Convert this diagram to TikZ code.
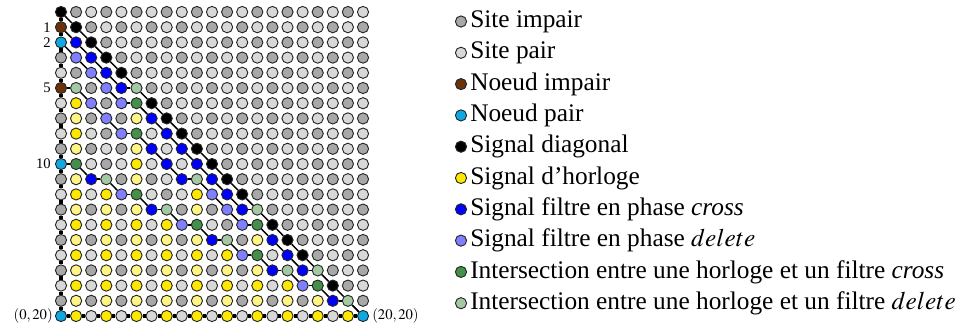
\documentclass[tikz,border=0pt]{standalone}
\usepackage{mathptmx}
\usepackage{fontspec}
\setmainfont{Liberation Serif}
\definecolor{siteodd}{HTML}{A8A8A8}
\definecolor{siteeven}{HTML}{D8D8D8}
\definecolor{colN}{HTML}{6B3208}
\definecolor{colC}{HTML}{10A8E0}
\definecolor{colK}{HTML}{000000}
\definecolor{colY1}{HTML}{FFE800}
\definecolor{colY0}{HTML}{FFF584}
\definecolor{colB}{HTML}{0000FF}
\definecolor{colL}{HTML}{7F7FFF}
\definecolor{colG}{HTML}{44904A}
\definecolor{colg}{HTML}{A4C8A4}
\newcommand\defcell[3]{\expandafter\gdef\csname cl@#1@#2\endcsname{#3}}
\newcommand\sigpath[1]{%
  \foreach \r/\c [count=\k, remember=\r as \pr (initially 0), remember=\c as \pc (initially 0)] in {#1}{%
    \ifnum\k>1 \draw[sig] (n-\pr-\pc) -- (n-\r-\c);\fi}}
\tikzset{
  cell/.style={circle,draw=black!85,line width=0.7pt,minimum size=8.4pt,inner sep=0pt},
  sig/.style={line width=1.1pt,black},
  axis/.style={line width=3pt,black},
  lbl/.style={font=\fontsize{11}{13}\selectfont,inner sep=0pt},
  leg/.style={font=\fontsize{19}{22}\selectfont,anchor=west,inner sep=0pt}
}
\begin{document}
\begin{tikzpicture}[x=0.75pt,y=-0.75pt]
\useasboundingbox (0,0) rectangle (963,329);
% clocks
\foreach \c/\s in {1/5,3/11,5/5,7/13,9/11,11/15,13/13,15/17,17/17,19/19}{
  \pgfmathtruncatemacro\st{\s+1}
  \foreach \r in {\st,...,20}{
    \pgfmathtruncatemacro\pp{mod(\r+\c,2)}
    \expandafter\xdef\csname cl@\r @\c\endcsname{colY\pp}
  }
}
% diagonal
\foreach \i in {0,...,18}{\expandafter\gdef\csname cl@\i @\i\endcsname{colK}}
% nodes
\defcell{1}{0}{colN}\defcell{5}{0}{colN}
\defcell{2}{0}{colC}\defcell{10}{0}{colC}\defcell{20}{0}{colC}\defcell{20}{20}{colC}
% cross filters
\foreach \r/\c in {2/1,3/2,4/3,5/4,7/6,8/7,9/8,10/9,11/10,12/11,13/12,9/6,10/7,11/8,15/14,16/15,17/16,11/2,13/6,15/10,17/14,19/18}
  {\expandafter\gdef\csname cl@\r @\c\endcsname{colB}}
% delete filters
\foreach \r/\c in {3/1,4/2,5/3,6/4,6/2,7/3,8/4,12/10,13/11,14/12,12/4,14/8,16/12,18/16}
  {\expandafter\gdef\csname cl@\r @\c\endcsname{colL}}
% intersections cross
\foreach \r/\c in {6/5,8/5,14/13,10/1,12/5,14/9,16/13,18/17}
  {\expandafter\gdef\csname cl@\r @\c\endcsname{colG}}
% intersections delete
\foreach \r/\c in {5/5,13/13,5/1,11/9,17/17,11/3,13/7,15/11,17/15,19/19}
  {\expandafter\gdef\csname cl@\r @\c\endcsname{colg}}
% grid
\foreach \r in {0,...,20}{
  \foreach \c in {0,...,20}{
    \pgfmathtruncatemacro\pty{mod(\r+\c,2)}
    \ifcsname cl@\r @\c\endcsname
      \edef\fc{\csname cl@\r @\c\endcsname}
    \else
      \ifnum\pty=1 \def\fc{siteodd}\else\def\fc{siteeven}\fi
    \fi
    \node[cell,fill=\fc] (n-\r-\c) at ({61+15.1*\c},{12+15.2*\r}) {};
  }
}
% thick axes and main diagonal
\foreach \i [evaluate=\i as \j using int(\i-1)] in {1,...,20}{
  \draw[axis] (n-\j-0) -- (n-\i-0);
  \draw[axis] (n-20-\j) -- (n-20-\i);
  \draw[sig] (n-\j-\j) -- (n-\i-\i);
}
% filter paths
\sigpath{1/0,2/1,3/2,4/3,5/4,5/5}
\sigpath{2/0,3/1,4/2,5/3,6/4,6/5,7/6,8/7,9/8,10/9,11/10,12/11,13/12,13/13}
\sigpath{5/0,5/1,6/2,7/3,8/4,8/5,9/6,10/7,11/8,11/9,12/10,13/11,14/12,14/13,15/14,16/15,17/16,17/17}
\sigpath{10/0,10/1,11/2,11/3,12/4,12/5,13/6,13/7,14/8,14/9,15/10,15/11,16/12,16/13,17/14,17/15,18/16,18/17,19/18,19/19,20/20}
% axis labels
\node[lbl,anchor=east] (l1) at (51,27.2) {1};
\node[lbl,anchor=east] (l2) at (51,42.4) {2};
\node[lbl,anchor=east] (l5) at (51,88) {5};
\node[lbl,anchor=east] (l10) at (51,164) {10};
\node[lbl,anchor=east] (l020) at (53,316) {$(0,20)$};
\node[lbl,anchor=west] (l2020) at (372,316) {$(20,20)$};
% legend
\foreach \k/\col in {0/siteodd,1/siteeven,2/colN,3/colC,4/colK,5/colY1,6/colB,7/colL,8/colG,9/colg}{
  \node[cell,fill=\col] (k\k) at (461,{21.5+31.3*\k}) {};
}
\node[leg] (t0) at (470,21.5) {Site impair};
\node[leg] (t1) at (470,52.8) {Site pair};
\node[leg] (t2) at (470,84.1) {Noeud impair};
\node[leg] (t3) at (470,115.4) {Noeud pair};
\node[leg] (t4) at (470,146.7) {Signal diagonal};
\node[leg] (t5) at (470,178) {Signal d'horloge};
\node[leg] (t6) at (470,209.3) {Signal filtre en phase \textit{cross}};
\node[leg] (t7) at (470,240.6) {Signal filtre en phase $delete$};
\node[leg] (t8) at (470,271.9) {Intersection entre une horloge et un filtre \textit{cross}};
\node[leg] (t9) at (470,303.2) {Intersection entre une horloge et un filtre $delete$};
\end{tikzpicture}
\end{document}
